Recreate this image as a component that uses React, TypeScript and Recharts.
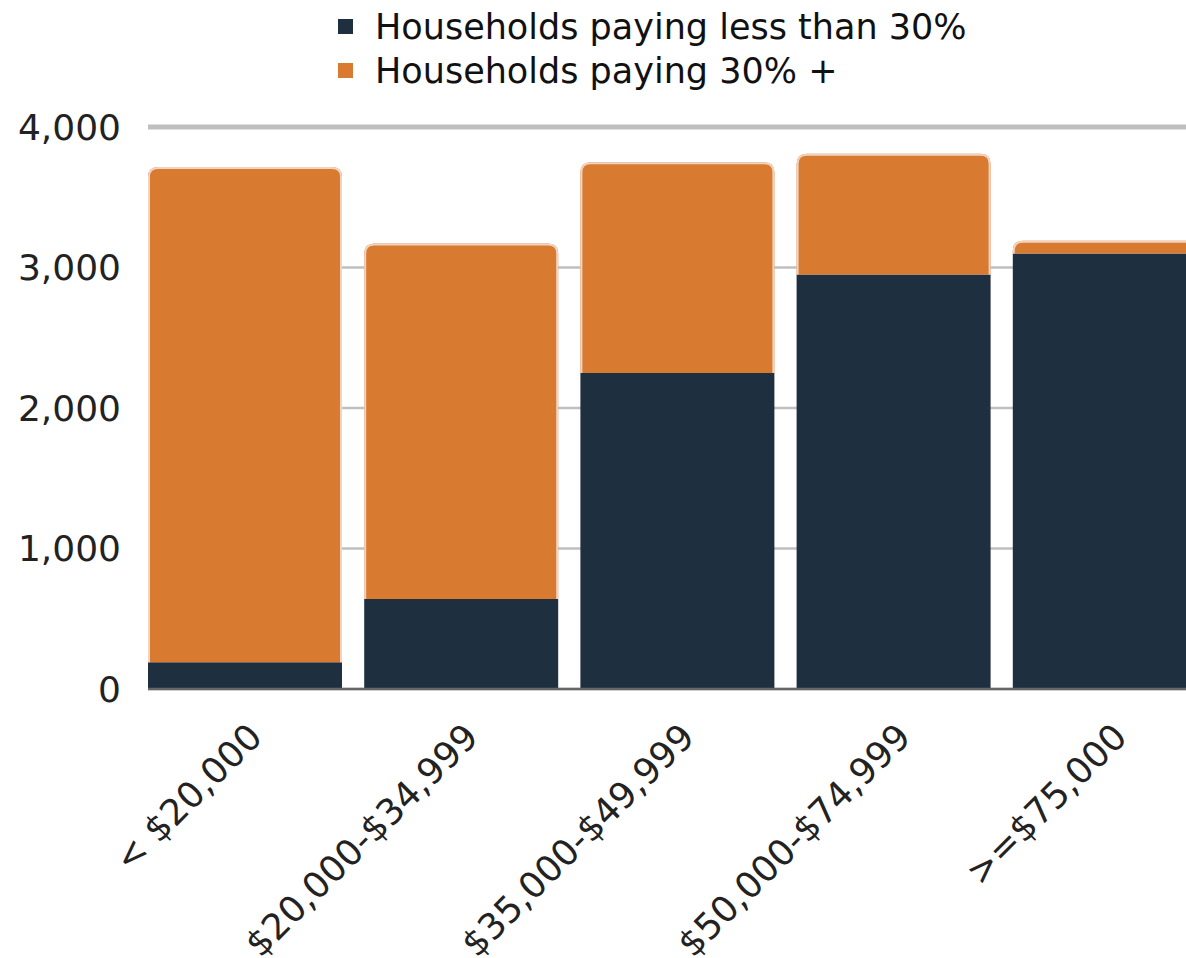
import React from "react";
import {
  BarChart,
  Bar,
  XAxis,
  YAxis,
  CartesianGrid,
  Legend,
  ReferenceLine,
} from "recharts";

const categories = [
  "< $20,000",
  "$20,000-$34,999",
  "$35,000-$49,999",
  "$50,000-$74,999",
  ">=$75,000",
];
const payingLess = [190, 640, 2250, 2950, 3100];
const payingMore = [3525, 2530, 1500, 860, 90];
const yTicks = [0, 1000, 2000, 3000, 4000];
const seriesNames = ["Households paying less than 30%", "Households paying 30% +"];

const DARK = "#1e2f40";
const ORANGE = "#d87a30";
const EDGE = "#f1d3c2";
const FONT = "'DejaVu Sans', sans-serif";

const chartData = categories.map((name, i) => ({
  name,
  less: payingLess[i],
  more: payingMore[i],
}));

const legendItems = [
  { label: seriesNames[0], color: DARK },
  { label: seriesNames[1], color: ORANGE },
];

function LegendBlock() {
  return (
    <div style={{ position: "relative", width: 1186, height: 127, fontFamily: FONT }}>
      {legendItems.map((it, i) => (
        <React.Fragment key={it.label}>
          <div
            style={{
              position: "absolute",
              left: 338,
              top: 19 + i * 44,
              width: 15,
              height: 15,
              background: it.color,
            }}
          />
          <div
            style={{
              position: "absolute",
              left: 375,
              top: 5 + i * 44,
              fontSize: 35,
              lineHeight: "44px",
              color: "#111",
              whiteSpace: "nowrap",
            }}
          >
            {it.label}
          </div>
        </React.Fragment>
      ))}
    </div>
  );
}

// orange segment: rounded top, light edge on top and sides only
function TopSegment(props: any) {
  const { x, y, width, height } = props;
  if (!height || height <= 0) return null;
  const r = Math.min(10, height, width / 2);
  const b = y + height;
  const fillPath = `M${x},${b} L${x},${y + r} Q${x},${y} ${x + r},${y} L${x + width - r},${y} Q${x + width},${y} ${x + width},${y + r} L${x + width},${b} Z`;
  const i = 1;
  const edgePath = `M${x + i},${b} L${x + i},${y + r} Q${x + i},${y + i} ${x + r},${y + i} L${x + width - r},${y + i} Q${x + width - i},${y + i} ${x + width - i},${y + r} L${x + width - i},${b}`;
  return (
    <g>
      <path d={fillPath} fill={ORANGE} />
      <path d={edgePath} fill="none" stroke={EDGE} strokeWidth={2} />
    </g>
  );
}

function AngledTick(props: any) {
  const { x, y, payload } = props;
  return (
    <g transform={`translate(${x + 19},${y + 50})`}>
      <text
        x={0}
        y={0}
        textAnchor="end"
        transform="rotate(-45)"
        fill="#222"
        fontSize={36}
        fontFamily={FONT}
      >
        {payload.value}
      </text>
    </g>
  );
}

export default function App() {
  return (
    <div
      style={{
        position: "fixed",
        left: 0,
        top: 0,
        width: 1186,
        height: 958,
        overflow: "hidden",
        background: "#fff",
      }}
    >
      <BarChart
        width={1218}
        height={958}
        data={chartData}
        margin={{ top: 0, right: 0, bottom: 0, left: 0 }}
        barCategoryGap={11}
      >
        <CartesianGrid vertical={false} stroke="#bfbfbf" strokeWidth={2.5} />
        <ReferenceLine y={4000} stroke="#bfbfbf" strokeWidth={5} />
        <XAxis
          dataKey="name"
          interval={0}
          height={269}
          padding={{ left: -11, right: 0 }}
          tickLine={false}
          tickSize={0}
          tickMargin={0}
          axisLine={{ stroke: "#666", strokeWidth: 2.7 }}
          tick={<AngledTick />}
        />
        <YAxis
          width={148}
          domain={[0, 4000]}
          ticks={yTicks}
          interval={0}
          axisLine={false}
          tickLine={false}
          tickSize={0}
          tickMargin={27}
          tickFormatter={(v) => v.toLocaleString("en-US")}
          tick={{ fill: "#222", fontSize: 36, fontFamily: FONT }}
        />
        <Legend
          verticalAlign="top"
          align="center"
          layout="horizontal"
          wrapperStyle={{ top: 0, left: 0 }}
          content={() => <LegendBlock />}
        />
        <Bar
          dataKey="less"
          name={seriesNames[0]}
          stackId="a"
          fill={DARK}
          isAnimationActive={false}
        />
        <Bar
          dataKey="more"
          name={seriesNames[1]}
          stackId="a"
          fill={ORANGE}
          shape={<TopSegment />}
          isAnimationActive={false}
        />
      </BarChart>
    </div>
  );
}
